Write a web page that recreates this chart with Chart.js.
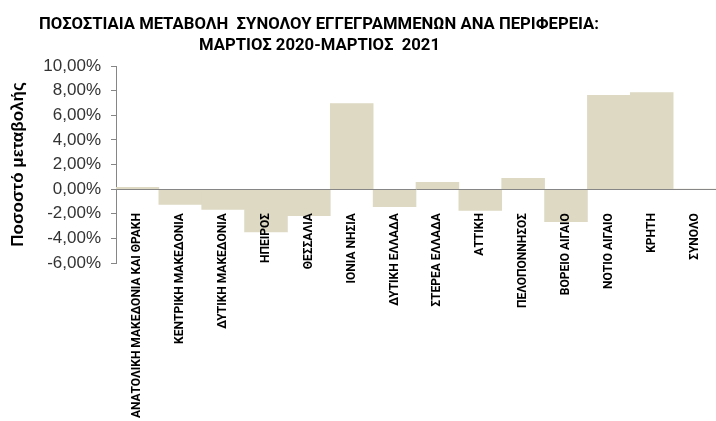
<!DOCTYPE html>
<html>
<head>
<meta charset="utf-8">
<script src="https://cdn.jsdelivr.net/npm/chart.js@4"></script>
<style>
  html, body { margin: 0; padding: 0; background: #fff; }
  #wrap { width: 716px; height: 421px; }
</style>
</head>
<body>
<div id="wrap"><canvas id="chart"></canvas></div>
<script>
var titleLines = [
  "ΠΟΣΟΣΤΙΑΙΑ ΜΕΤΑΒΟΛΗ  ΣΥΝΟΛΟΥ ΕΓΓΕΓΡΑΜΜΕΝΩΝ ΑΝΑ ΠΕΡΙΦΕΡΕΙΑ:",
  "ΜΑΡΤΙΟΣ 2020-ΜΑΡΤΙΟΣ  2021",
];
var regions = [
  "ΑΝΑΤΟΛΙΚΗ ΜΑΚΕΔΟΝΙΑ ΚΑΙ ΘΡΑΚΗ",
  "ΚΕΝΤΡΙΚΗ ΜΑΚΕΔΟΝΙΑ",
  "ΔΥΤΙΚΗ ΜΑΚΕΔΟΝΙΑ",
  "ΗΠΕΙΡΟΣ",
  "ΘΕΣΣΑΛΙΑ",
  "ΙΟΝΙΑ ΝΗΣΙΑ",
  "ΔΥΤΙΚΗ ΕΛΛΑΔΑ",
  "ΣΤΕΡΕΑ ΕΛΛΑΔΑ",
  "ΑΤΤΙΚΗ",
  "ΠΕΛΟΠΟΝΝΗΣΟΣ",
  "ΒΟΡΕΙΟ ΑΙΓΑΙΟ",
  "ΝΟΤΙΟ ΑΙΓΑΙΟ",
  "ΚΡΗΤΗ",
  "ΣΥΝΟΛΟ",
];
// percent change, March 2020 -> March 2021
var changePct = [0.15, -1.25, -1.65, -3.47, -2.16, 6.95, -1.42, 0.55, -1.73, 0.88, -2.65, 7.62, 7.85, 0];
var yLabel = "Ποσοστό μεταβολής";

var axisGrey = "#868686";
var barColor = "#DDD9C3";

// draws the two title lines, squeezed to the narrow look of the original
var titlePlugin = {
  id: "titleLines",
  afterDraw: function (chart) {
    var ctx = chart.ctx;
    ctx.save();
    ctx.fillStyle = "#000";
    ctx.font = "bold 17px Roboto, sans-serif";
    ctx.textBaseline = "alphabetic";
    ctx.textAlign = "left";
    var sx = 560 / ctx.measureText(titleLines[0]).width;
    ctx.scale(sx, 1);
    ctx.fillText(titleLines[0], 39 / sx, 29);
    ctx.fillText(titleLines[1], 199 / sx, 50);
    ctx.restore();
  },
};

new Chart(document.getElementById("chart"), {
  type: "bar",
  data: {
    labels: regions,
    datasets: [
      {
        data: changePct,
        backgroundColor: barColor,
        borderWidth: 0,
        categoryPercentage: 1,
        barPercentage: 1,
      },
    ],
  },
  options: {
    responsive: true,
    maintainAspectRatio: false,
    animation: false,
    layout: { padding: { top: 66, right: 0, bottom: 158, left: 4 } },
    plugins: {
      legend: { display: false },
      tooltip: { enabled: false },
    },
    scales: {
      x: {
        position: { y: 0 },
        afterFit: function (scale) { scale.paddingLeft = 0; scale.paddingRight = 0; },
        grid: { display: false },
        border: { display: true, color: axisGrey, width: 1, z: 1 },
        ticks: {
          z: 1,
          color: "#000",
          autoSkip: false,
          minRotation: 90,
          maxRotation: 90,
          padding: 16,
          font: { family: "Roboto, sans-serif", size: 12, weight: "bold" },
        },
      },
      y: {
        min: -6,
        max: 10,
        afterFit: function (scale) { scale.width = 112; },
        grid: { display: true, drawOnChartArea: false, drawTicks: true, tickLength: 5, color: axisGrey },
        border: { display: true, color: axisGrey, width: 1 },
        ticks: {
          stepSize: 2,
          color: "#333",
          padding: 10,
          font: { family: "'Liberation Sans', sans-serif", size: 17 },
          callback: function (v) { return v.toFixed(2).replace(".", ",") + "%"; },
        },
        title: {
          display: true,
          text: yLabel,
          color: "#000",
          padding: { top: 4, bottom: 2 },
          font: { family: "'Liberation Sans', sans-serif", size: 17, weight: "bold" },
        },
      },
    },
  },
  plugins: [titlePlugin],
});
</script>
</body>
</html>
